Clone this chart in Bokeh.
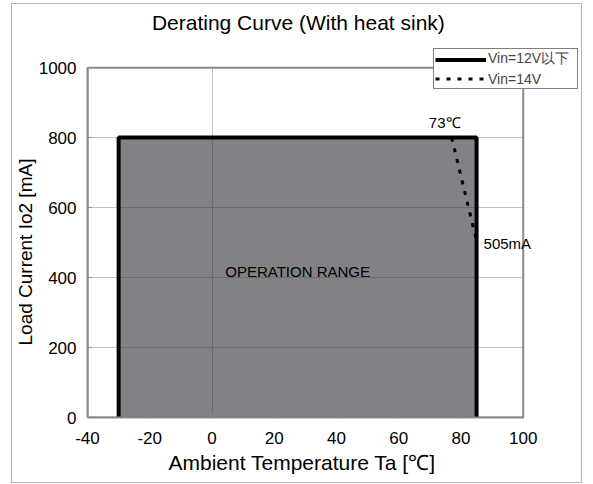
from bokeh.plotting import figure
from bokeh.models import Range1d, Legend, LegendItem, Label, FixedTicker, Grid, Title
from bokeh.embed import file_html
from bokeh.resources import INLINE

# ---- data ----
x_ticks = [-40, -20, 0, 20, 40, 60, 80, 100]
y_ticks = [0, 200, 400, 600, 800, 1000]
x_grid_ticks = [0]
# operating boundary Vin <= 12V (Ta [°C], Io2 [mA])
solid_x = [-30, -30, 85, 85]
solid_y = [0, 800, 800, 0]
# derating line Vin = 14V
dash_x = [77, 85]
dash_y = [800, 505]
knee_temp = 73
label_12v = "Vin=12V以下"
label_14v = "Vin=14V"
title_text = "Derating Curve (With heat sink)"
x_title = "Ambient Temperature Ta [℃]"
y_title = "Load Current Io2 [mA]"

FONT = "Liberation Sans"

# ---- layout geometry (pixels) ----
W, H = 571, 480
MB_LEFT, MB_RIGHT, MB_TOP, MB_BOTTOM = 73, 0, 0, 67
BOX_W, BOX_H = 434, 349        # visible plot box (x: -40..100, y: 0..1000)
EXTRA_R, EXTRA_T = 60, 63      # frame extends beyond the box so legend/labels are not clipped
x0, x1 = x_ticks[0], x_ticks[-1]
y0, y1 = y_ticks[0], y_ticks[-1]
x_end = x1 + EXTRA_R * (x1 - x0) / BOX_W
y_end = y1 + EXTRA_T * (y1 - y0) / BOX_H

p = figure(width=W, height=H, output_backend="svg", toolbar_location=None,
           x_range=Range1d(x0, x_end), y_range=Range1d(y0, y_end),
           min_border_left=MB_LEFT, min_border_right=MB_RIGHT,
           min_border_top=MB_TOP, min_border_bottom=MB_BOTTOM)
p.styles = {"border": "1px solid #b4b4b4", "margin-left": "11px", "margin-top": "3px"}
p.outline_line_color = None

for ax in (p.xaxis[0], p.yaxis[0]):
    ax.axis_line_color = "#8a8a8a"
    ax.axis_line_width = 2
    ax.major_tick_line_color = "#8a8a8a"
    ax.major_tick_in = 4
    ax.major_tick_out = 0
    ax.minor_tick_line_color = None
    ax.major_label_text_font = FONT
    ax.major_label_text_font_size = "17px"
    ax.major_label_text_color = "black"

p.xaxis.ticker = FixedTicker(ticks=x_ticks)
p.yaxis.ticker = FixedTicker(ticks=y_ticks)
p.xaxis.major_label_overrides = {t: str(t) for t in x_ticks}
p.yaxis.major_label_overrides = {t: str(t) for t in y_ticks}
p.xaxis.bounds = (x0, x1)
p.yaxis.bounds = (y0, y1)
p.xaxis.major_label_standoff = 14
p.yaxis.major_label_standoff = 11

# axis titles (as side-panel titles so they centre on the visible box, not the extended frame)
xt = Title(text=x_title, align="left", offset=81, text_font=FONT, text_font_size="21px",
           text_font_style="normal", text_color="black", standoff=4)
p.add_layout(xt, "below")
yt = Title(text=y_title, align="left", offset=72, text_font=FONT, text_font_size="19px",
           text_font_style="normal", text_color="black", standoff=0)
p.add_layout(yt, "left")

p.xgrid.ticker = FixedTicker(ticks=x_grid_ticks)
p.ygrid.ticker = FixedTicker(ticks=y_ticks)
for g in (p.xgrid[0], p.ygrid[0]):
    g.grid_line_color = "#c4c4c4"
has_cross = "cross_bounds" in Grid.properties()
if has_cross:
    p.xgrid.cross_bounds = (y0, y1)
    p.ygrid.cross_bounds = (x0, x1)
else:
    p.xgrid.visible = False
    p.ygrid.visible = False
    p.segment(x0=x_grid_ticks, x1=x_grid_ticks, y0=[y0] * len(x_grid_ticks), y1=[y1] * len(x_grid_ticks),
              line_color="#c4c4c4", line_width=1, level="underlay")
    p.segment(x0=[x0] * len(y_ticks), x1=[x1] * len(y_ticks), y0=y_ticks, y1=y_ticks,
              line_color="#c4c4c4", line_width=1, level="underlay")

# visible plot box border (top/right edges; left/bottom are the axes)
p.quad(left=[x0], right=[x1], bottom=[y0], top=[y1], fill_color=None,
       line_color="#8a8a8a", line_width=2)

# operation range fill (semi-transparent so gridlines show through darker)
p.quad(left=[min(solid_x)], right=[max(solid_x)], bottom=[min(solid_y)], top=[max(solid_y)],
       fill_color="#35353b", fill_alpha=0.62, line_color=None)

r_solid = p.line(solid_x, solid_y, line_color="black", line_width=4)
r_dash = p.line(dash_x, dash_y, line_color="black", line_width=3, line_dash="4 7")

legend = Legend(items=[LegendItem(label=label_12v, renderers=[r_solid]),
                       LegendItem(label=label_14v, renderers=[r_dash])],
                location=(346, 328), orientation="vertical")
legend.label_text_font = FONT
legend.label_text_font_size = "14px"
legend.glyph_width = 51
legend.glyph_height = 17
legend.label_height = 17
legend.label_width = 88
legend.label_standoff = 2
legend.spacing = 2
legend.padding = 1
legend.margin = 0
legend.border_line_color = "black"
legend.border_line_width = 1
legend.background_fill_color = "white"
legend.background_fill_alpha = 1
p.add_layout(legend, "center")

# chart title, inside the extended frame area above the box
p.add_layout(Label(x=(x0 + x1) / 2, y=y1, text=title_text, text_align="center",
                   text_baseline="middle", x_offset=-7, y_offset=45,
                   text_font=FONT, text_font_size="21px", text_color="black"))

lbl_kw = dict(text_font=FONT, text_font_size="15px", text_baseline="middle", text_color="black")
p.add_layout(Label(x=dash_x[0], y=dash_y[0], text=f"{knee_temp}℃",
                   text_align="center", x_offset=-7, y_offset=15, **lbl_kw))
p.add_layout(Label(x=dash_x[1], y=dash_y[1], text=f"{dash_y[1]}mA",
                   text_align="left", x_offset=7, y_offset=-3, **lbl_kw))
p.add_layout(Label(x=(min(solid_x) + max(solid_x)) / 2, y=max(solid_y) / 2,
                   text="OPERATION RANGE", text_align="center", y_offset=6, **lbl_kw))

open("out.html", "w").write(file_html(p, INLINE))
